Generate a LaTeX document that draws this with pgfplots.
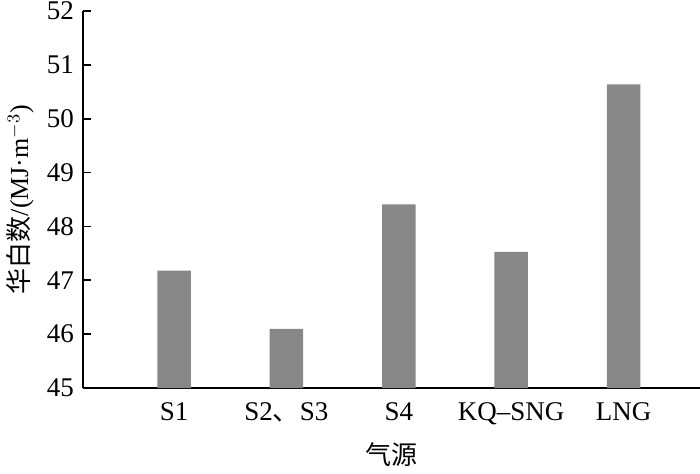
\documentclass[border=0pt]{standalone}
\usepackage{pgfplots}
\pgfplotsset{compat=1.18}
\usepackage{fontspec}
\setmainfont{Liberation Serif}
\newfontfamily\cjk{Noto Sans CJK SC}
\definecolor{bargray}{HTML}{878787}
\begin{document}
\begin{tikzpicture}
\path[use as bounding box] (-41.5pt,-42.5pt) rectangle (308.5pt,194pt);
\begin{axis}[
  scale only axis, width=308.5pt, height=188.5pt,
  xmin=-0.81, xmax=4.68, ymin=45, ymax=52,
  axis x line=bottom, axis y line=left,
  axis line style={-, line width=0.9pt},
  ytick={45,46,...,52}, xtick={0,1,2,3,4},
  xticklabels={S1, S2{\cjk 、}S3, S4, KQ–SNG, LNG},
  x tick style={draw=none},
  y tick style={black, line width=0.8pt},
  tick align=inside, major tick length=4pt,
  /pgf/number format/assume math mode=true,
  yticklabel style={font=\fontsize{13.5}{15}\selectfont, xshift=-1pt},
  xticklabel style={font=\fontsize{13.5}{15}\selectfont, yshift=-4pt},
  xlabel={\cjk 气源},
  ylabel={{\cjk 华白数}/(MJ·m$^{-3}$)},
  xlabel style={font=\fontsize{13}{15}\selectfont, at={(axis description cs:0.5,0)}, anchor=center, yshift=-33.5pt},
  ylabel style={font=\fontsize{13}{15}\selectfont, at={(axis description cs:0,0.5)}, anchor=center, yshift=31.5pt},
]
\addplot[ybar, bar width=16.75pt, fill=bargray, draw=none] coordinates {(0,47.18) (1,46.10) (2,48.41) (3,47.53) (4,50.64)};
\end{axis}
\end{tikzpicture}
\end{document}
